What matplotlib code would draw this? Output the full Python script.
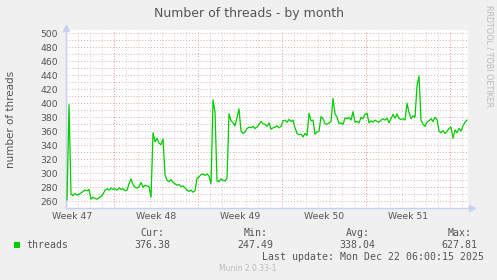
import numpy as np
import matplotlib
matplotlib.use("Agg")
import matplotlib.pyplot as plt

# munin "threads" graph, month view
# one sample every 4 hours, x axis in days from left edge of the graph
start_day = 0.06
samples_per_day = 6
threads = [
    262, 398, 270, 268, 271, 269, 270, 272, 274, 276,
    275, 277, 263, 266, 264, 263, 265, 267, 270, 276,
    278, 276, 279, 277, 278, 276, 279, 277, 278, 275,
    276, 285, 292, 284, 280, 279, 281, 287, 280, 283,
    282, 281, 266, 358, 345, 350, 343, 341, 349, 298,
    290, 288, 291, 287, 285, 283, 284, 281, 282, 279,
    276, 274, 276, 273, 275, 293, 295, 298, 299, 297,
    299, 296, 285, 405, 387, 289, 288, 292, 290, 289,
    293, 385, 375, 372, 368, 380, 392, 360, 357, 359,
    364, 366, 365, 367, 364, 366, 370, 374, 371, 370,
    367, 372, 363, 365, 366, 368, 365, 367, 375, 376,
    373, 377, 374, 376, 365, 357, 355, 356, 352, 357,
    354, 386, 375, 376, 356, 359, 360, 381, 378, 371,
    370, 372, 374, 407, 385, 380, 371, 372, 370, 379,
    378, 380, 376, 388, 373, 374, 372, 380, 378, 384,
    386, 372, 375, 373, 376, 374, 373, 376, 378, 376,
    379, 372, 378, 384, 379, 385, 378, 377, 378, 376,
    400, 387, 378, 382, 380, 425, 439, 376, 370, 367,
    373, 375, 378, 374, 380, 377, 360, 358, 361, 357,
    360, 364, 366, 350, 362, 358, 364, 360, 368, 373,
    376,
]

week_labels = ["Week 47", "Week 48", "Week 49", "Week 50", "Week 51"]
week_label_days = [0.5, 7.5, 14.5, 21.5, 28.5]
week_start_days = [4, 11, 18, 25, 32]
y_ticks = [260, 280, 300, 320, 340, 360, 380, 400, 420, 440, 460, 480, 500]

legend_names = ["Cur:", "Min:", "Avg:", "Max:"]
legend_values = ["376.38", "247.49", "338.04", "627.81"]
last_update = "Last update: Mon Dec 22 06:00:15 2025"

W, H = 497, 280
x_end = 33.45

fig = plt.figure(figsize=(W / 100, H / 100), dpi=100)
fig.patch.set_facecolor("#F0F0F0")

# plot area in pixels: x 66.3 -> 467.7, y 29.8 -> 208.3
ax = fig.add_axes([66.3 / W, 1 - 208.3 / H, (467.7 - 66.3) / W, (208.3 - 29.8) / H])
ax.set_facecolor("white")
ax.set_xlim(0, x_end)
ax.set_ylim(250, 505)

# grid: grey dotted every day, red dotted every week, pink every 10 threads
dots = (0, (1, 2))
for d in range(1, 34):
    if d not in week_start_days:
        ax.axvline(d, color="#CFCFCF", lw=0.7, ls=dots, zorder=1)
for d in week_start_days:
    ax.axvline(d, color="#F09090", lw=0.7, ls=dots, zorder=1)
for v in range(260, 501, 10):
    ax.axhline(v, color="#E8A8A8", lw=0.7, ls=dots, zorder=1)

x = start_day + np.arange(len(threads)) / samples_per_day
ax.plot(x, threads, color="#00CC00", lw=0.9, zorder=3)

for s in ["top", "right"]:
    ax.spines[s].set_visible(False)
axis_col = "#C8D0F2"
for s in ["left", "bottom"]:
    ax.spines[s].set_color(axis_col)
    ax.spines[s].set_linewidth(1.0)
# little arrows at the end of the axes
ax.plot([0], [1.012], marker="^", ms=4, color=axis_col, transform=ax.transAxes, clip_on=False)
ax.plot([1.01], [0], marker=">", ms=4, color=axis_col, transform=ax.transAxes, clip_on=False)

ax.set_yticks(y_ticks)
ax.set_yticklabels([str(v) for v in y_ticks])
ax.set_xticks(week_label_days)
ax.set_xticklabels(week_labels)
ax.tick_params(axis="both", length=0, labelsize=6.7, colors="#555555")
ax.tick_params(axis="y", pad=6)
ax.tick_params(axis="x", pad=3)


def px(xp, yp):
    return xp / W, 1 - yp / H


fig.text(*px(248.5, 13.5), "Number of threads - by month", ha="center", va="center",
         fontsize=9, color="#555555")
fig.text(*px(11, 119.5), "number of threads", ha="center", va="center", rotation=90,
         fontsize=7.5, color="#555555")
fig.text(*px(489, 56), "RRDTOOL / TOBI OETIKER", ha="center", va="center", rotation=270,
         fontsize=5.8, color="#BBBBBB")

# legend block (monospace like rrdtool)
mono = "DejaVu Sans Mono"
fs = 7.1
name_x = [140.7, 243.3, 346.0, 447.3]
value_x = [134.3, 237.6, 339.3, 441.7]
for nx, name in zip(name_x, legend_names):
    fig.text(*px(nx, 233.5), name, family=mono, fontsize=fs, color="#555555", va="center")
for vx, val in zip(value_x, legend_values):
    fig.text(*px(vx, 245.5), val, family=mono, fontsize=fs, color="#555555", va="center")

fig.patches.append(plt.Rectangle(px(14, 248.3), 6 / W, 6 / H, transform=fig.transFigure,
                                 facecolor="#00CC00", edgecolor="none"))
fig.text(*px(26.7, 245.5), "threads", family=mono, fontsize=fs, color="#555555", va="center")
fig.text(*px(483.5, 257.3), last_update, family=mono, fontsize=fs, color="#555555",
         va="center", ha="right")
fig.text(*px(248, 268.5), "Munin 2.0.33-1", fontsize=5.5, color="#BBBBBB",
         ha="center", va="center")

fig.savefig("out.png", dpi=100, facecolor=fig.get_facecolor())
